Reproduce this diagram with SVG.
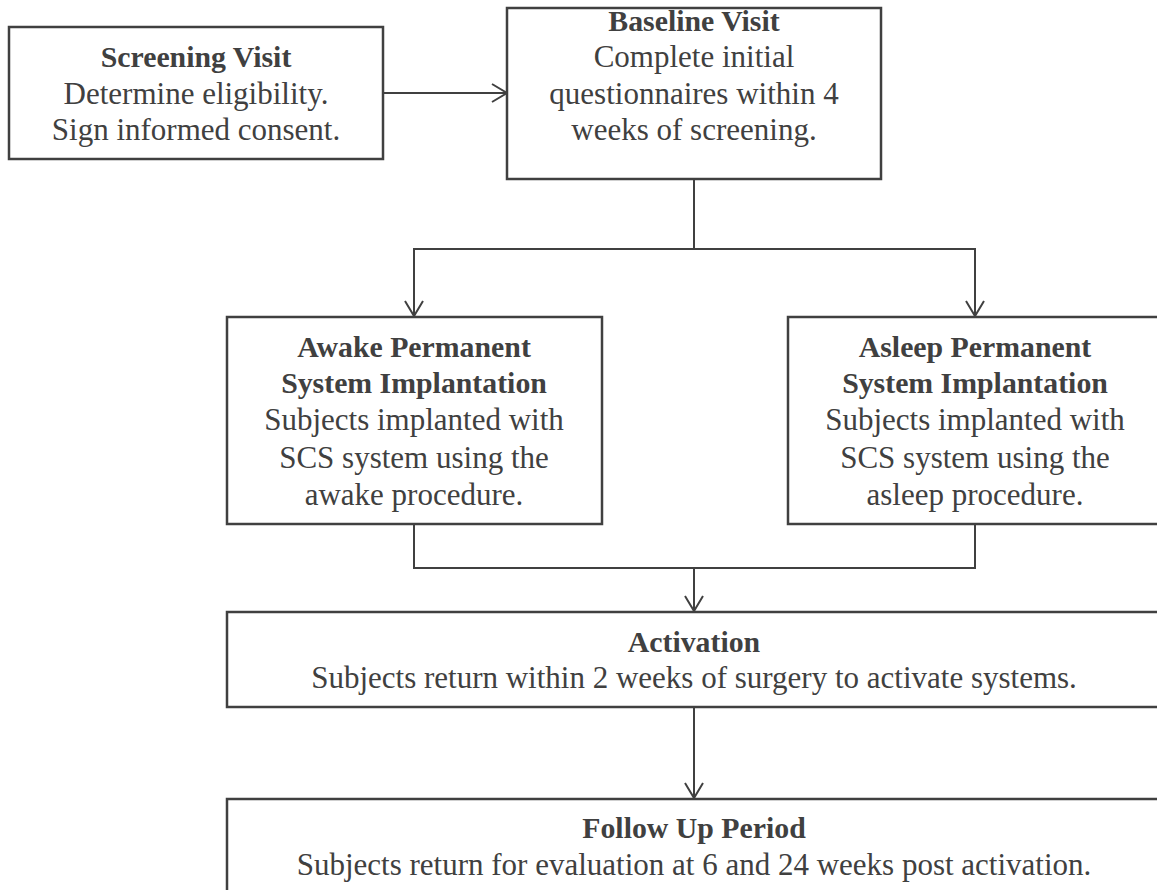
<svg xmlns="http://www.w3.org/2000/svg" width="1157" height="890" viewBox="0 0 1157 890">
<style>
.box{fill:#fff;stroke:#404040;stroke-width:2.5}
.con{fill:none;stroke:#404040;stroke-width:2}
text{font-family:"Liberation Serif","Times New Roman",serif;font-size:31px;fill:#404040;text-anchor:middle}
.b{font-weight:bold;font-size:29.8px}
</style>
<defs>
<marker id="arr" viewBox="0 0 20 20" refX="17" refY="10" markerWidth="20" markerHeight="20" markerUnits="userSpaceOnUse" orient="auto">
<path d="M2,1 L17,10 L2,19" fill="none" stroke="#404040" stroke-width="2"/>
</marker>
</defs>
<rect width="1157" height="890" fill="#fff"/>
<g id="connectors">
<line class="con" x1="383" y1="93" x2="507" y2="93" marker-end="url(#arr)"/>
<polyline class="con" points="694,179 694,249"/>
<polyline class="con" points="414,316 414,249 975,249 975,316"/>
<line class="con" x1="414" y1="249" x2="414" y2="316" marker-end="url(#arr)"/>
<line class="con" x1="975" y1="249" x2="975" y2="316" marker-end="url(#arr)"/>
<polyline class="con" points="414,524 414,568 975,568 975,524"/>
<line class="con" x1="694" y1="568" x2="694" y2="611" marker-end="url(#arr)"/>
<line class="con" x1="694" y1="707" x2="694" y2="798" marker-end="url(#arr)"/>
</g>
<g id="screening">
<rect class="box" x="9" y="27" width="374" height="132"/>
<text x="196" y="67" class="b">Screening Visit</text>
<text x="196" y="104">Determine eligibility.</text>
<text x="196" y="140">Sign informed consent.</text>
</g>
<g id="baseline">
<rect class="box" x="507" y="8" width="374" height="171"/>
<text x="694" y="31" class="b">Baseline Visit</text>
<text x="694" y="67">Complete initial</text>
<text x="694" y="104">questionnaires within 4</text>
<text x="694" y="140">weeks of screening.</text>
</g>
<g id="awake">
<rect class="box" x="227" y="317" width="375" height="207"/>
<text x="414" y="357" class="b">Awake Permanent</text>
<text x="414" y="393" class="b">System Implantation</text>
<text x="414" y="430">Subjects implanted with</text>
<text x="414" y="468">SCS system using the</text>
<text x="414" y="505">awake procedure.</text>
</g>
<g id="asleep">
<rect class="box" x="788" y="317" width="375" height="207"/>
<text x="975" y="357" class="b">Asleep Permanent</text>
<text x="975" y="393" class="b">System Implantation</text>
<text x="975" y="430">Subjects implanted with</text>
<text x="975" y="468">SCS system using the</text>
<text x="975" y="505">asleep procedure.</text>
</g>
<g id="activation">
<rect class="box" x="227" y="612" width="935" height="95"/>
<text x="694" y="652" class="b">Activation</text>
<text x="694" y="688">Subjects return within 2 weeks of surgery to activate systems.</text>
</g>
<g id="followup">
<rect class="box" x="227" y="799" width="935" height="110"/>
<text x="694" y="838" class="b">Follow Up Period</text>
<text x="694" y="875">Subjects return for evaluation at 6 and 24 weeks post activation.</text>
</g>
</svg>
